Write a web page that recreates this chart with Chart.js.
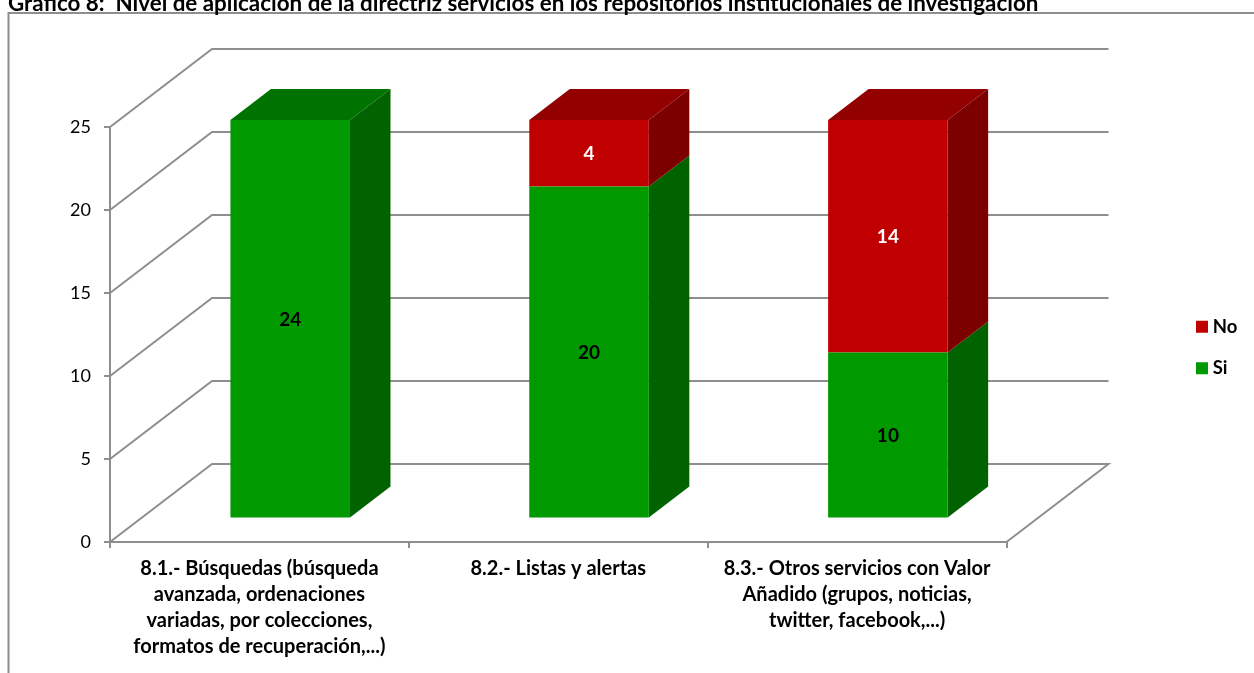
<!DOCTYPE html>
<html><head><meta charset="utf-8">
<style>html,body{margin:0;padding:0;background:#fff;overflow:hidden}canvas{display:block}</style>
<script src="https://cdn.jsdelivr.net/npm/chart.js@4"></script>
</head><body><canvas id="c" width="1254" height="673"></canvas>
<script>
const titleText = 'Gráfico 8:  Nivel de aplicación de la directriz servicios en los repositorios institucionales de investigación';
const categories = [
  ['8.1.- Búsquedas (búsqueda','avanzada, ordenaciones','variadas, por colecciones,','formatos de recuperación,...)'],
  '8.2.- Listas y alertas',
  ['8.3.- Otros servicios con Valor','Añadido (grupos, noticias,','twitter, facebook,...)']
];
const siValues = [24, 20, 10];
const noValues = [0, 4, 14];
const yTicks = [0, 5, 10, 15, 20, 25];

const GRID = '#8e8e8e';
const FONT = 'Lato, Carlito, sans-serif';
const faces = [
  {front:'#009900', top:'#007200', side:'#006300', label:'#000'},
  {front:'#c00000', top:'#920000', side:'#7c0000', label:'#fff'}
];
const WALL = {dx:102, dy:-78};
const BAR_SHIFT = {dx:30.8, dy:-23.5};
const BAR_DEPTH = {dx:40.5, dy:-31};

function poly(ctx, pts, fill){
  ctx.beginPath();
  pts.forEach((p,i)=> i?ctx.lineTo(p[0],p[1]):ctx.moveTo(p[0],p[1]));
  ctx.closePath(); ctx.fillStyle=fill; ctx.fill();
}

const scene3d = {
  id:'scene3d',
  beforeLayout(chart){
    const l = chart.legend;
    if(!l._wrapped){ const f=l.fit; l.fit=function(){f.call(this); this.width=247.5;}; l._wrapped=true; }
  },
  afterLayout(chart){
    chart.titleBlock.top = -10;
    chart.titleBlock.left = 8;
    chart.titleBlock.bottom = chart.titleBlock.top + 25;
    chart.legend.left = 1200.5 - 23;
    chart.legend.top = 317.5 - 23;
    chart.legend.right = 1254;
  },
  beforeDraw(chart){
    const c = chart.ctx;
    c.save(); c.strokeStyle=GRID; c.lineWidth=2;
    c.beginPath(); c.moveTo(8.5,673); c.lineTo(8.5,13); c.lineTo(1254,13); c.stroke();
    c.restore();
  },
  beforeDatasetsDraw(chart){
    const c = chart.ctx, y = chart.scales.y, a = chart.chartArea;
    c.save(); c.strokeStyle=GRID; c.lineWidth=2; c.lineJoin='miter';
    yTicks.forEach(v=>{
      const py = y.getPixelForValue(v);
      c.beginPath();
      c.moveTo(a.left,py); c.lineTo(a.left+WALL.dx,py+WALL.dy); c.lineTo(a.right+WALL.dx,py+WALL.dy);
      if(v===yTicks[0]) c.lineTo(a.right,py);
      c.stroke();
    });
    c.restore();
    c.save();
    c.translate(BAR_SHIFT.dx, BAR_SHIFT.dy);
    chart.data.datasets.forEach((ds,i)=>{
      const meta = chart.getDatasetMeta(i);
      meta.data.forEach((el,j)=>{
        if(!ds.data[j]) return;
        const l=el.x-el.width/2, r=el.x+el.width/2, t=el.y, b=el.base;
        const d=BAR_DEPTH;
        poly(c,[[r,t],[r+d.dx,t+d.dy],[r+d.dx,b+d.dy],[r,b]],faces[i].side);
        const isTop = !chart.data.datasets.slice(i+1).some(o=>o.data[j]);
        if(isTop) poly(c,[[l,t],[l+d.dx,t+d.dy],[r+d.dx,t+d.dy],[r,t]],faces[i].top);
      });
    });
  },
  afterDatasetsDraw(chart){
    const c = chart.ctx;
    c.font = 'bold 19px '+FONT; c.textAlign='center'; c.textBaseline='middle';
    chart.data.datasets.forEach((ds,i)=>{
      chart.getDatasetMeta(i).data.forEach((el,j)=>{
        if(!ds.data[j]) return;
        c.fillStyle = faces[i].label;
        const p = el.getCenterPoint();
        c.fillText(ds.data[j], p.x, p.y+1);
      });
    });
    c.restore();
  }
};

new Chart(document.getElementById('c'), {
  type:'bar',
  data:{labels:categories, datasets:[
    {label:'Si', data:siValues, backgroundColor:faces[0].front, borderWidth:0, barPercentage:0.4, categoryPercentage:1, clip:false},
    {label:'No', data:noValues, backgroundColor:faces[1].front, borderWidth:0, barPercentage:0.4, categoryPercentage:1, clip:false}
  ]},
  options:{
    responsive:false, animation:false, devicePixelRatio:1,
    layout:{padding:0},
    plugins:{
      tooltip:{enabled:false},
      title:{display:true, text:titleText, align:'start', color:'#000',
        font:{family:FONT, size:22.4, weight:'bold', lineHeight:1.2}, padding:{top:0,bottom:100.1}},
      legend:{position:'right', align:'start', reverse:true,
        labels:{boxWidth:3, boxHeight:3, padding:23, color:'#000',
          font:{family:FONT, size:18.5, weight:'bold'},
          generateLabels(chart){
            return Chart.defaults.plugins.legend.labels.generateLabels(chart).map(it=>
              Object.assign(it,{lineWidth:9, strokeStyle:it.fillStyle, lineJoin:'miter'}));
          }}}
    },
    scales:{
      x:{stacked:true, afterFit:s=>{s.height=131;},
        grid:{drawOnChartArea:false, drawTicks:true, tickLength:6, color:GRID, lineWidth:2},
        border:{color:GRID, width:2},
        ticks:{color:'#000', padding:8, maxRotation:0, autoSkip:false,
          font:{family:FONT, size:20, weight:'bold', lineHeight:1.3}}},
      y:{stacked:true, min:0, max:25, afterFit:s=>{s.width=110;},
        afterBuildTicks:s=>{s.ticks=yTicks.map(v=>({value:v}));},
        grid:{drawOnChartArea:false, drawTicks:true, tickLength:6, color:GRID, lineWidth:2},
        border:{color:GRID, width:2},
        ticks:{color:'#000', padding:13, font:{family:FONT, size:18}}}
    }
  },
  plugins:[scene3d]
});
</script></body></html>
